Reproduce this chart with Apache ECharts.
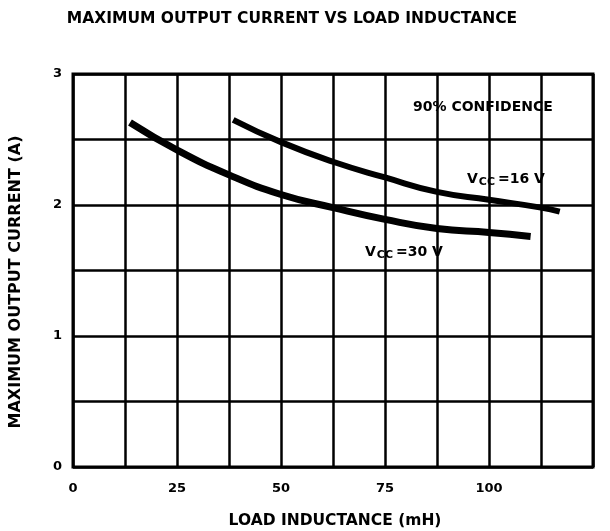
<!DOCTYPE html>
<html>
<head>
<meta charset="utf-8">
<script src="https://cdn.jsdelivr.net/npm/echarts@6/dist/echarts.min.js"></script>
<style>
  html, body { margin: 0; padding: 0; background: #fff; }
  #main { width: 610px; height: 531px; }
</style>
</head>
<body>
<div id="main"></div>
<script>
// load inductance (mH) vs max output current (A)
var vcc30X = [13.7, 25, 37.5, 50, 62.5, 75, 87.5, 100, 110];
var vcc30Y = [2.63, 2.42, 2.23, 2.08, 1.98, 1.89, 1.82, 1.79, 1.76];
var vcc16X = [38.5, 50, 62.5, 75, 87.5, 100, 112.5, 117];
var vcc16Y = [2.65, 2.48, 2.33, 2.21, 2.10, 2.04, 1.98, 1.95];
var xTickLabels = ['0', '25', '50', '75', '100'];
var yTickLabels = ['0', '1', '2', '3'];

var font = '"DejaVu Sans", "Liberation Sans", sans-serif';

function pairs(xs, ys) {
  var out = [];
  for (var i = 0; i < xs.length; i++) {
    out.push([xs[i], ys[i]]);
  }
  return out;
}

var chart = echarts.init(document.getElementById('main'));

var subRich = {
  v: { font: 'bold 14px ' + font, fill: '#000' },
  s: { font: 'bold 11px ' + font, fill: '#000', padding: [6, 3, 0, 1] }
};

var option = {
  animation: false,
  title: {
    text: 'MAXIMUM OUTPUT CURRENT VS LOAD INDUCTANCE',
    left: 287,
    top: 6,
    textAlign: 'center',
    textStyle: {
      fontFamily: font,
      fontWeight: 'bold',
      fontSize: 15.5,
      color: '#000'
    }
  },
  grid: {
    left: 73,
    right: 17,
    top: 74,
    bottom: 64,
    containLabel: false,
    outerBoundsMode: 'none',
    show: true,
    borderColor: '#000',
    borderWidth: 3
  },
  xAxis: {
    type: 'value',
    min: 0,
    max: 125,
    interval: 12.5,
    name: 'LOAD INDUCTANCE (mH)',
    nameLocation: 'middle',
    nameGap: 46,
    nameTextStyle: {
      fontFamily: font,
      fontWeight: 'bold',
      fontSize: 15.5,
      color: '#000',
      padding: [0, 0, 0, 4]
    },
    axisLine: { show: false },
    axisTick: { show: false },
    axisLabel: {
      margin: 15,
      fontFamily: font,
      fontWeight: 'bold',
      fontSize: 13,
      color: '#000',
      formatter: function (v) {
        var s = String(v);
        return xTickLabels.indexOf(s) >= 0 ? s : '';
      }
    },
    splitLine: { show: true, lineStyle: { color: '#000', width: 2.5 } }
  },
  yAxis: {
    type: 'value',
    min: 0,
    max: 3,
    interval: 0.5,
    axisLine: { show: false },
    axisTick: { show: false },
    axisLabel: {
      margin: 11,
      fontFamily: font,
      fontWeight: 'bold',
      fontSize: 13,
      color: '#000',
      formatter: function (v) {
        var s = String(v);
        return yTickLabels.indexOf(s) >= 0 ? s : '';
      }
    },
    splitLine: { show: true, lineStyle: { color: '#000', width: 2.5 } }
  },
  series: [
    {
      name: 'VCC=30 V',
      type: 'line',
      smooth: true,
      showSymbol: false,
      lineStyle: { color: '#000', width: 7, cap: 'butt' },
      data: pairs(vcc30X, vcc30Y)
    },
    {
      name: 'VCC=16 V',
      type: 'line',
      smooth: true,
      showSymbol: false,
      lineStyle: { color: '#000', width: 6, cap: 'butt' },
      data: pairs(vcc16X, vcc16Y)
    }
  ],
  graphic: [
    {
      // y axis title, placed by hand so it sits a little below the grid centre
      type: 'text',
      x: 16,
      y: 282,
      rotation: Math.PI / 2,
      style: {
        text: 'MAXIMUM OUTPUT CURRENT (A)',
        font: 'bold 16px ' + font,
        fill: '#000',
        align: 'center',
        verticalAlign: 'middle'
      }
    },
    {
      type: 'text',
      left: 411,
      top: 97,
      style: {
        text: '90% CONFIDENCE',
        font: 'bold 14px ' + font,
        fill: '#000',
        backgroundColor: '#fff',
        padding: [3, 2]
      }
    },
    {
      type: 'text',
      left: 465,
      top: 169,
      style: {
        text: '{v|V}{s|CC}{v|=16 V}',
        fill: '#000',
        backgroundColor: '#fff',
        padding: [2, 2],
        rich: subRich
      }
    },
    {
      type: 'text',
      left: 363,
      top: 242,
      style: {
        text: '{v|V}{s|CC}{v|=30 V}',
        fill: '#000',
        backgroundColor: '#fff',
        padding: [2, 2],
        rich: subRich
      }
    }
  ]
};

chart.setOption(option);
</script>
</body>
</html>
